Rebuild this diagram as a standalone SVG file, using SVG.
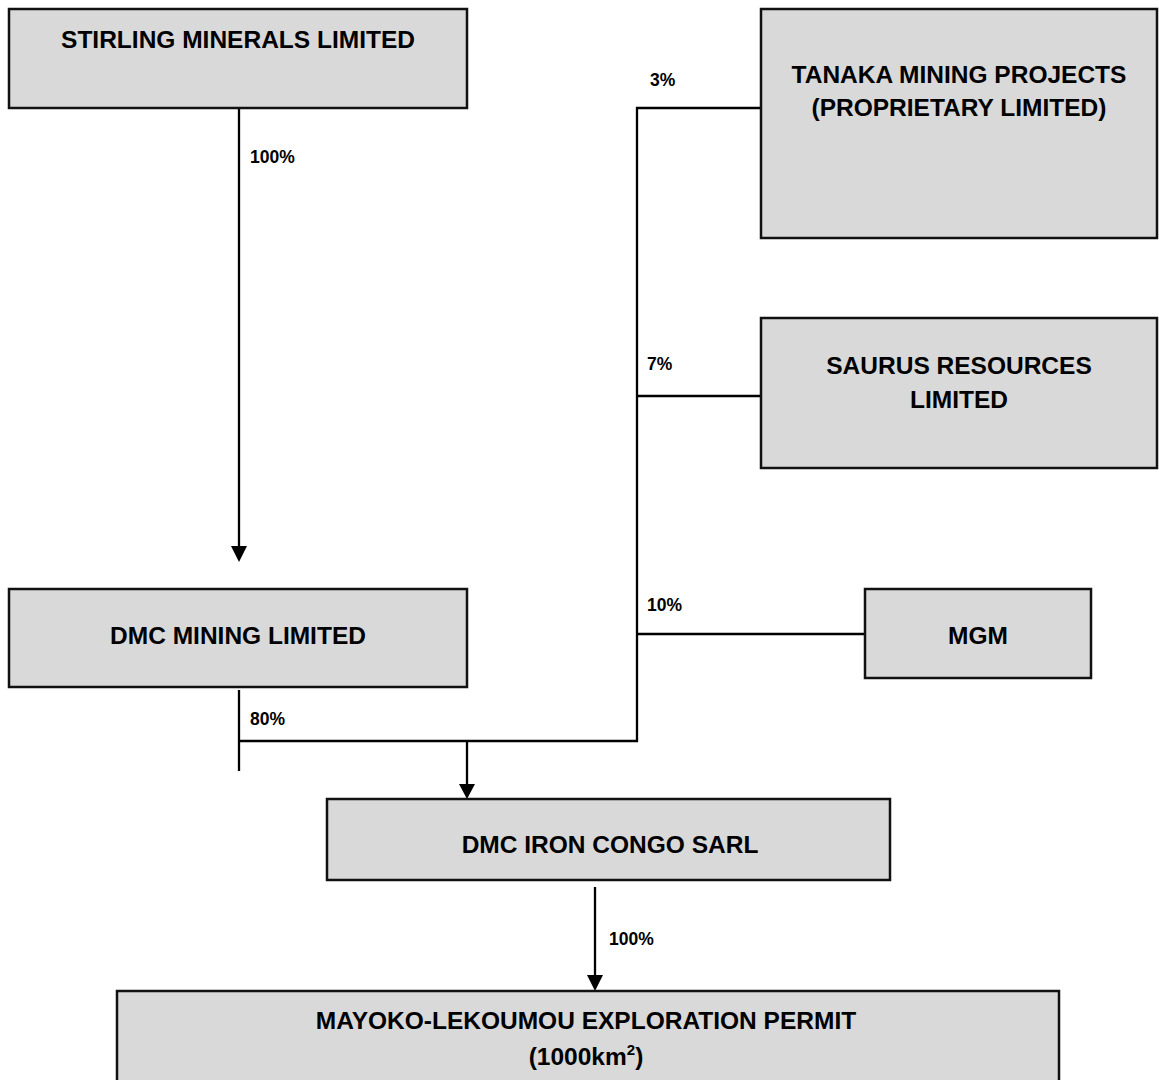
<svg xmlns="http://www.w3.org/2000/svg" width="1159" height="1080" viewBox="0 0 1159 1080">
<style>
.box{fill:#d9d9d9;stroke:#111;stroke-width:2.5}
.t{font-family:"Liberation Sans",Arial,sans-serif;font-weight:bold;font-size:24.5px;fill:#000;text-anchor:middle}
.p{font-family:"Liberation Sans",Arial,sans-serif;font-weight:bold;font-size:17.5px;fill:#000}
.ln{stroke:#000;stroke-width:2.3;fill:none}
.ah{fill:#000}
</style>
<rect width="1159" height="1080" fill="#fff"/>
<g id="connectors">
<line class="ln" x1="239" y1="109" x2="239" y2="548"/>
<polygon class="ah" points="231,546 247,546 239,562"/>
<line class="ln" x1="239" y1="690" x2="239" y2="771"/>
<line class="ln" x1="238" y1="741" x2="638" y2="741"/>
<line class="ln" x1="467" y1="741" x2="467" y2="787"/>
<polygon class="ah" points="459,784 475,784 467,799"/>
<line class="ln" x1="637" y1="107" x2="637" y2="742"/>
<line class="ln" x1="636" y1="108" x2="761" y2="108"/>
<line class="ln" x1="637" y1="396" x2="761" y2="396"/>
<line class="ln" x1="637" y1="634" x2="865" y2="634"/>
<line class="ln" x1="595" y1="887" x2="595" y2="978"/>
<polygon class="ah" points="587,975 603,975 595,991"/>
<text class="p" x="250" y="163">100%</text>
<text class="p" x="650" y="86">3%</text>
<text class="p" x="647" y="370">7%</text>
<text class="p" x="647" y="611">10%</text>
<text class="p" x="250" y="725">80%</text>
<text class="p" x="609" y="945">100%</text>
</g>
<g id="stirling">
<rect class="box" x="9" y="9" width="458" height="99"/>
<text class="t" x="238" y="48">STIRLING MINERALS LIMITED</text>
</g>
<g id="tanaka">
<rect class="box" x="761" y="9" width="396" height="229"/>
<text class="t" x="959" y="83">TANAKA MINING PROJECTS</text>
<text class="t" x="959" y="116">(PROPRIETARY LIMITED)</text>
</g>
<g id="saurus">
<rect class="box" x="761" y="318" width="396" height="150"/>
<text class="t" x="959" y="374">SAURUS RESOURCES</text>
<text class="t" x="959" y="408">LIMITED</text>
</g>
<g id="dmc-mining">
<rect class="box" x="9" y="589" width="458" height="98"/>
<text class="t" x="238" y="644">DMC MINING LIMITED</text>
</g>
<g id="mgm">
<rect class="box" x="865" y="589" width="226" height="89"/>
<text class="t" x="978" y="644">MGM</text>
</g>
<g id="dmc-iron-congo">
<rect class="box" x="327" y="799" width="563" height="81"/>
<text class="t" x="610" y="853">DMC IRON CONGO SARL</text>
</g>
<g id="mayoko">
<rect class="box" x="117" y="991" width="942" height="100"/>
<text class="t" x="586" y="1029">MAYOKO-LEKOUMOU EXPLORATION PERMIT</text>
<text class="t" x="586" y="1065">(1000km<tspan font-size="15" dy="-10">2</tspan><tspan dy="10">)</tspan></text>
</g>
</svg>
